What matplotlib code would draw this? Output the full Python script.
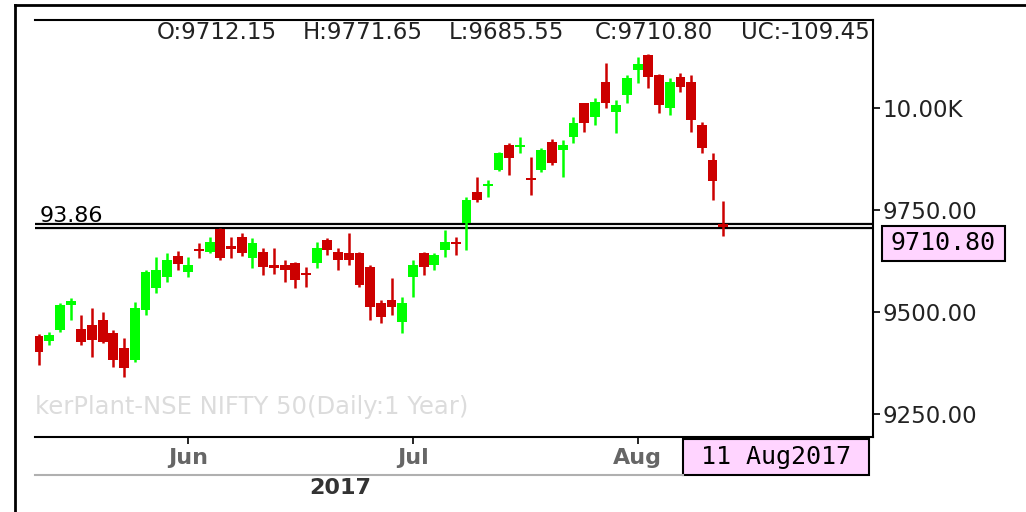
# NIFTY 50 daily candles, mid May - 11 Aug 2017
import numpy as np
import pandas as pd
import matplotlib
matplotlib.use("Agg")
import matplotlib.pyplot as plt
from matplotlib.patches import Rectangle
from matplotlib.lines import Line2D
from matplotlib.ticker import FuncFormatter

# Trading days shown (NSE closed on 26 Jun 2017)
dates = pd.bdate_range("2017-05-12", "2017-08-11")
dates = dates[dates != pd.Timestamp("2017-06-26")]

opens = [9441, 9429, 9456, 9517, 9458, 9468, 9480, 9449, 9412, 9382,
         9505, 9559, 9586, 9637, 9598, 9654, 9647, 9703, 9662, 9684,
         9632, 9647, 9615, 9615, 9620, 9596, 9620, 9676, 9647, 9645,
         9645, 9610, 9522, 9529, 9475, 9586, 9645, 9615, 9652, 9671,
         9718, 9794, 9809, 9848, 9909, 9905, 9828, 9848, 9917, 9897,
         9929, 10012, 9978, 10064, 9990, 10032, 10093, 10130, 10081, 10000,
         10076, 10064, 9958, 9873, 9712.15]
highs = [9446, 9451, 9522, 9534, 9493, 9510, 9500, 9456, 9436, 9525,
         9603, 9635, 9645, 9650, 9635, 9669, 9684, 9706, 9684, 9694,
         9681, 9657, 9657, 9627, 9623, 9610, 9672, 9681, 9657, 9694,
         9647, 9615, 9529, 9583, 9537, 9627, 9647, 9645, 9701, 9684,
         9782, 9831, 9824, 9892, 9914, 9929, 9880, 9902, 9924, 9922,
         9978, 10012, 10025, 10110, 10020, 10081, 10125, 10132, 10083, 10074,
         10086, 10081, 9966, 9890, 9771.65]
lows = [9370, 9419, 9451, 9480, 9419, 9390, 9424, 9365, 9341, 9377,
        9493, 9547, 9574, 9603, 9586, 9632, 9645, 9627, 9632, 9637,
        9608, 9591, 9593, 9574, 9559, 9561, 9608, 9640, 9603, 9615,
        9561, 9480, 9473, 9493, 9449, 9537, 9591, 9603, 9635, 9640,
        9652, 9770, 9782, 9846, 9836, 9890, 9787, 9843, 9860, 9831,
        9914, 9941, 9958, 10000, 9939, 10012, 10061, 10049, 9988, 9983,
        10039, 9941, 9890, 9775, 9685.55]
closes = [9402, 9444, 9517, 9527, 9426, 9431, 9426, 9382, 9363, 9510,
          9598, 9603, 9627, 9618, 9615, 9650, 9672, 9632, 9654, 9645,
          9669, 9610, 9608, 9603, 9578, 9591, 9657, 9652, 9627, 9627,
          9566, 9512, 9488, 9512, 9522, 9615, 9610, 9640, 9672, 9667,
          9775, 9775, 9813, 9890, 9877, 9909, 9824, 9897, 9865, 9909,
          9963, 9963, 10015, 10012, 10007, 10074, 10108, 10076, 10007, 10064,
          10051, 9971, 9902, 9820.25, 9710.80]

price_ticks = [9250, 9500, 9750, 10000]
up_color = "#00FF00"
down_color = "#CC0000"
box_color = "#FFD4FF"

n = len(dates)
x = np.arange(n)
o = np.array(opens)
h = np.array(highs)
l = np.array(lows)
c = np.array(closes)
colors = [up_color if cc >= oo else down_color for oo, cc in zip(o, c)]

W, H = 1026, 512
fig = plt.figure(figsize=(W / 100, H / 100), dpi=100)
ax = fig.add_axes([35 / W, 1 - 437 / H, (873 - 35) / W, (437 - 20) / H])

# candles: wicks then bodies
ax.vlines(x, l, h, colors=colors, linewidth=1.8, zorder=2)
body = np.maximum(np.abs(c - o), 6)
ax.bar(x, body, bottom=(o + c) / 2 - body / 2, width=0.92, color=colors,
       linewidth=0, zorder=3)

# double line at last close
ax.axhline(c[-1], color="black", linewidth=4.5, zorder=1)
ax.axhline(c[-1], color="white", linewidth=1.3, zorder=1)
ax.text(0.005, c[-1], "93.86", transform=ax.get_yaxis_transform(),
        fontsize=16, color="black", va="bottom", ha="left")

ax.set_xlim(-0.33, 78.0)
ax.set_ylim(9193.6, 10215.7)

for side in ["top", "right", "bottom"]:
    ax.spines[side].set_linewidth(1.5)
    ax.spines[side].set_color("black")
ax.spines["left"].set_visible(False)

# price axis on the right
ax.yaxis.tick_right()
ax.set_yticks(price_ticks)
ax.yaxis.set_major_formatter(FuncFormatter(
    lambda v, p: "%.2fK" % (v / 1000) if v >= 10000 else "%.2f" % v))
ax.tick_params(axis="y", direction="out", length=5, width=1.2,
               labelsize=16.5, pad=2, labelcolor="#222222")

# month ticks
month_idx = [i for i in range(1, n) if dates[i].month != dates[i - 1].month]
ax.set_xticks(month_idx)
ax.set_xticklabels([dates[i].strftime("%b") for i in month_idx],
                   fontsize=16, fontweight="bold", color="#666666")
ax.tick_params(axis="x", direction="out", length=5, width=1.2, pad=3)

# OHLC header
change = c[-1] - c[-2]
header = ["O:%.2f" % o[-1], "H:%.2f" % h[-1], "L:%.2f" % l[-1],
          "C:%.2f" % c[-1], "UC:%.2f" % change]
for k, s in enumerate(header):
    t = ax.text(0.1456 + 0.1742 * k, 0.969, s, transform=ax.transAxes,
                fontsize=16.5, color="#222222", va="center", ha="left")
    t.set_clip_on(True)

# watermark
ax.text(0.0, 0.072, "kerPlant-NSE NIFTY 50(Daily:1 Year)",
        transform=ax.transAxes, fontsize=17.5, color="#dcdcdc",
        va="center", ha="left")

# year label and separator
fig.text(340 / W, 1 - 488 / H, str(dates[-1].year), fontsize=16,
         fontweight="bold", color="#333333", ha="center", va="center")
fig.add_artist(Line2D([35 / W, 683 / W], [1 - 475 / H] * 2,
                      color="#b0b0b0", linewidth=1.5))

# last date box
fig.add_artist(Rectangle((683 / W, 1 - 475 / H), (869 - 683) / W, 36 / H,
                         transform=fig.transFigure, facecolor=box_color,
                         edgecolor="black", linewidth=1.5))
fig.text((683 + 869) / 2 / W, 1 - 457 / H, dates[-1].strftime("%d %b%Y"),
         family="DejaVu Sans Mono", fontsize=18, color="black",
         ha="center", va="center")

# last price box
y_disp = ax.transData.transform((0, c[-1]))[1]
fig.add_artist(Rectangle((882 / W, (y_disp - 35) / H), 123 / W, 35 / H,
                         transform=fig.transFigure, facecolor=box_color,
                         edgecolor="black", linewidth=1.5))
fig.text((882 + 1005) / 2 / W, (y_disp - 17.5) / H, "%.2f" % c[-1],
         family="DejaVu Sans Mono", fontsize=18, color="black",
         ha="center", va="center")

# outer frame
fig.add_artist(Line2D([15 / W, 15 / W], [0, 1 - 5 / H], color="black",
                      linewidth=2))
fig.add_artist(Line2D([15 / W, 1], [1 - 5 / H] * 2, color="black",
                      linewidth=2))

fig.savefig("out.png", dpi=100)
